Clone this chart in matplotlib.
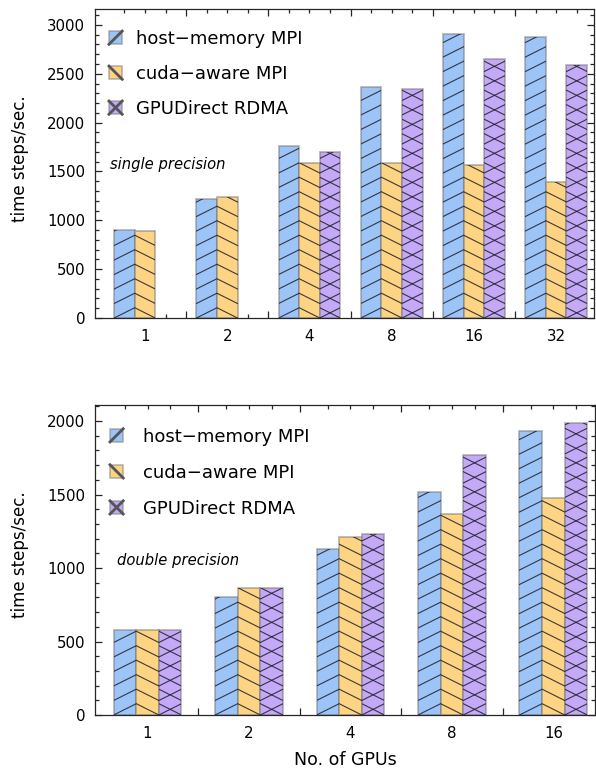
import matplotlib.pyplot as plt
import numpy as np
from matplotlib.patches import Rectangle, Patch
from matplotlib.lines import Line2D
from matplotlib.legend_handler import HandlerBase

# single precision (top panel)
gpus_sp = ['1', '2', '4', '8', '16', '32']
host_sp = [905, 1215, 1760, 2360, 2905, 2875]
cuda_sp = [890, 1238, 1583, 1583, 1563, 1390]
rdma_sp = [np.nan, np.nan, 1695, 2340, 2655, 2590]

# double precision (bottom panel)
gpus_dp = ['1', '2', '4', '8', '16']
host_dp = [580, 805, 1130, 1515, 1932]
cuda_dp = [580, 866, 1210, 1365, 1474]
rdma_dp = [580, 862, 1232, 1770, 1984]

names = ['host\u2212memory MPI', 'cuda\u2212aware MPI', 'GPUDirect RDMA']
colors = ['#9cc4f7', '#fdd483', '#c3a9f6']
hatches = ['/', '\\', 'x']
edge = (0.45, 0.45, 0.45, 0.5)
frame = '#262626'


class SwatchHandler(HandlerBase):
    def create_artists(self, legend, orig_handle, xdescent, ydescent,
                       width, height, fontsize, trans):
        x0, y0 = -xdescent, -ydescent
        side = min(width, height)
        arts = [Rectangle((x0, y0), side, side, facecolor=orig_handle.get_facecolor(),
                          edgecolor=edge, lw=1.2, transform=trans)]
        h = orig_handle.get_hatch()
        if h in ('/', 'x'):
            arts.append(Line2D([x0, x0 + side], [y0, y0 + side], color='#555555',
                               lw=2, transform=trans))
        if h in ('\\', 'x'):
            arts.append(Line2D([x0, x0 + side], [y0 + side, y0], color='#555555',
                               lw=2, transform=trans))
        return arts


def hatch_bars(ax, bars, kind, step=14.5, slope=0.5):
    inv = ax.transData.inverted()
    for rect in bars:
        hgt = rect.get_height()
        if not np.isfinite(hgt) or hgt <= 0:
            continue
        (x0, y0), (x1, y1) = ax.transData.transform(
            [(rect.get_x(), rect.get_y()), (rect.get_x() + rect.get_width(), rect.get_y() + hgt)])
        w = x1 - x0
        dirs = {'/': [1], '\\': [-1], 'x': [1, -1]}[kind]
        for s in dirs:
            for k in np.arange(-2, (y1 - y0) / step + 3):
                if s > 0:
                    p = [(x0, y0 + k * step), (x1, y0 + k * step + slope * w)]
                else:
                    p = [(x0, y0 + k * step + slope * w), (x1, y0 + k * step)]
                d = inv.transform(p)
                ln, = ax.plot(d[:, 0], d[:, 1], color='#1e1e2a', lw=0.8, alpha=0.85)
                ln.set_clip_path(rect)


def panel(ax, labels, series, width, xlim, ylim, note, note_xy, leg_xy, textpad, spacing):
    x = np.arange(len(labels))
    ax.set_xlim(*xlim)
    ax.set_ylim(*ylim)
    all_bars = []
    for i, vals in enumerate(series):
        bars = ax.bar(x + (i - 1) * width, vals, width, color=colors[i],
                      edgecolor=edge, linewidth=1.3, zorder=2)
        all_bars.append(bars)
    for i, bars in enumerate(all_bars):
        hatch_bars(ax, bars, hatches[i])

    # ticks: long at group boundaries, short at bar centres, labels at group centres
    bounds = np.arange(len(labels) - 1) + 0.5
    ax.set_xticks(bounds, labels=[''] * len(bounds))
    centres = np.concatenate([x + d * width for d in (-1, 0, 1)])
    order = np.argsort(centres)
    centres = centres[order]
    clabels = np.concatenate([[''] * len(x), labels, [''] * len(x)])[order]
    ax.set_xticks(centres, labels=list(clabels), minor=True)
    ax.set_yticks(np.arange(0, ylim[1], 500))
    ax.set_yticks(np.arange(0, ylim[1], 100), minor=True)
    ax.tick_params(which='both', direction='in', top=True, right=True,
                   color=frame, width=0.9, labelsize=10.8, pad=7)
    ax.tick_params(which='major', length=5)
    ax.tick_params(which='minor', length=3)
    ax.tick_params(axis='x', which='minor', labelsize=10.8, pad=8)
    for sp in ax.spines.values():
        sp.set_color(frame)
        sp.set_linewidth(0.9)

    ax.set_ylabel('time steps/sec.', fontsize=12)
    ax.yaxis.set_label_coords(-0.132, 0.516)
    ax.text(note_xy[0], note_xy[1], note, transform=ax.transAxes, fontsize=10.6,
            style='italic', va='center', ha='left')

    handles = [Patch(facecolor=c, hatch=h, label=n) for c, h, n in zip(colors, hatches, names)]
    ax.legend(handles=handles, handler_map={Patch: SwatchHandler()}, loc='upper left',
              bbox_to_anchor=leg_xy, frameon=False, fontsize=13, borderpad=0,
              borderaxespad=0, handlelength=0.75, handleheight=0.75,
              labelspacing=spacing, handletextpad=textpad)


fig = plt.figure(figsize=(5.96, 7.72), dpi=100)
ax1 = fig.add_axes([95 / 596, 1 - 318 / 772, 499 / 596, 309 / 772])
ax2 = fig.add_axes([95 / 596, 1 - 715 / 772, 500 / 596, 310 / 772])

panel(ax1, gpus_sp, [host_sp, cuda_sp, rdma_sp], 0.25, (-0.608, 5.46), (0, 3163),
      'single precision', (0.030, 0.498), (0.028, 0.932), 0.75, 0.94)
panel(ax2, gpus_dp, [host_dp, cuda_dp, rdma_dp], 0.223, (-0.518, 4.41), (0, 2109),
      'double precision', (0.044, 0.497), (0.030, 0.927), 1.1, 1.0)

ax2.set_xlabel('No. of GPUs', fontsize=12.5, labelpad=7)

fig.savefig('out.png', dpi=100)
